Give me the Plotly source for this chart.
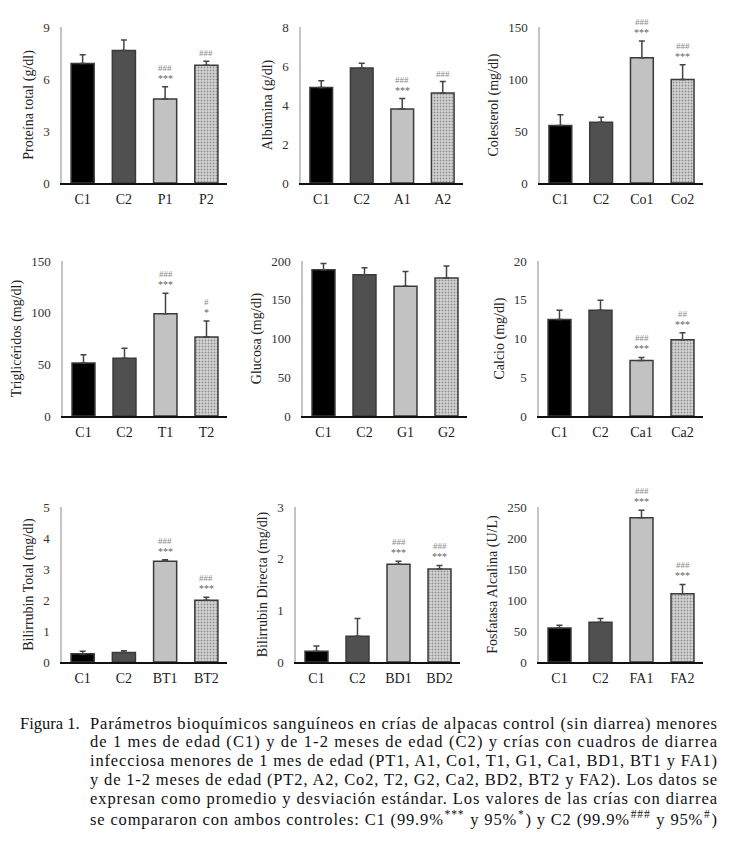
import plotly.graph_objects as go

# ---------------- data ----------------
titles = ["Proteína total (g/dl)", "Albúmina (g/dl)", "Colesterol (mg/dl)",
          "Triglicéridos (mg/dl)", "Glucosa (mg/dl)", "Calcio (mg/dl)",
          "Bilirrubin Total (mg/dl)", "Bilirrubin Directa (mg/dl)", "Fosfatasa Alcalina (U/L)"]
categories = [["C1", "C2", "P1", "P2"], ["C1", "C2", "A1", "A2"], ["C1", "C2", "Co1", "Co2"],
              ["C1", "C2", "T1", "T2"], ["C1", "C2", "G1", "G2"], ["C1", "C2", "Ca1", "Ca2"],
              ["C1", "C2", "BT1", "BT2"], ["C1", "C2", "BD1", "BD2"], ["C1", "C2", "FA1", "FA2"]]
means = [[6.9, 7.65, 4.85, 6.8], [4.9, 5.9, 3.8, 4.62], [55.4, 58.3, 120.5, 99.4],
         [51.3, 55.8, 99.0, 76.5], [188.8, 182.4, 167.3, 178.0], [12.45, 13.65, 7.15, 9.85],
         [0.27, 0.31, 3.25, 1.99], [0.21, 0.5, 1.89, 1.8], [54.8, 64.0, 232.8, 110.2]]
sds = [[0.5, 0.6, 0.7, 0.23], [0.34, 0.24, 0.53, 0.58], [10.3, 5.0, 16.0, 14.4],
       [8.0, 9.7, 19.7, 15.5], [8.0, 9.0, 19.0, 15.5], [1.2, 1.3, 0.4, 0.9],
       [0.08, 0.05, 0.05, 0.1], [0.1, 0.34, 0.06, 0.07], [4.3, 6.0, 11.8, 15.0]]
ymax = [9, 8, 150, 150, 200, 20, 5, 3, 250]
dticks = [3, 2, 50, 50, 50, 5, 1, 1, 50]
# significance marks: vs C1 (asterisks) and vs C2 (hashes) for each bar
sig_c1 = [["", "", "***", ""], ["", "", "***", ""], ["", "", "***", "***"],
          ["", "", "***", "*"], ["", "", "", ""], ["", "", "***", "***"],
          ["", "", "***", "***"], ["", "", "***", "***"], ["", "", "***", "***"]]
sig_c2 = [["", "", "###", "###"], ["", "", "###", "###"], ["", "", "###", "###"],
          ["", "", "###", "#"], ["", "", "", ""], ["", "", "###", "##"],
          ["", "", "###", "###"], ["", "", "###", "###"], ["", "", "###", "###"]]

caption_label = "Figura 1."
caption_lines = [
    "Parámetros bioquímicos sanguíneos en crías de alpacas control (sin diarrea) menores",
    "de 1 mes de edad (C1) y de 1-2 meses de edad (C2) y crías con cuadros de diarrea",
    "infecciosa menores de 1 mes de edad (PT1, A1, Co1, T1, G1, Ca1, BD1, BT1 y FA1)",
    "y de 1-2 meses de edad (PT2, A2, Co2, T2, G2, Ca2, BD2, BT2 y FA2). Los datos se",
    "expresan como promedio y desviación estándar. Los valores de las crías con diarrea",
    "se compararon con ambos controles: C1 (99.9%<sup>***</sup> y 95%<sup>*</sup>) y C2 (99.9%<sup>###</sup> y 95%<sup>#</sup>)",
]

# ---------------- layout geometry (page pixels) ----------------
OFF = 8                      # default body margin of the html page
W, H = 729 - OFF, 846 - OFF  # figure size so it exactly fills the window
col_x = [[(62, 227), (301, 463), (540, 703)],
         [(63, 227), (303, 467), (539, 703)],
         [(62, 227), (296, 460), (539, 703)]]
row_y = [(27, 183), (261, 416), (507, 662)]


def fx(px):
    return (px - OFF) / W


def fy(py):
    return (H - (py - OFF)) / H


bar_colors = ["#000000", "#505050", "#c2c2c2", "#d6d6d6"]
pattern_shapes = ["", "", "", "."]
FONT = "Liberation Serif, Times New Roman, serif"

fig = go.Figure()
layout = dict(width=W, height=H, margin=dict(l=0, r=0, t=0, b=0, autoexpand=False),
              paper_bgcolor="white", plot_bgcolor="white", showlegend=False,
              font=dict(family=FONT, color="#222"))
annotations = []

for i in range(9):
    r, c = divmod(i, 3)
    x0, x1 = col_x[r][c]
    ytop, ybot = row_y[r]
    n = i + 1
    xa = "x" if n == 1 else f"x{n}"
    ya = "y" if n == 1 else f"y{n}"
    fig.add_trace(go.Bar(
        x=categories[i], y=means[i], xaxis=xa, yaxis=ya, width=0.56,
        marker=dict(color=bar_colors, line=dict(color="#3a3a3a", width=1.5),
                    pattern=dict(shape=pattern_shapes, fgcolor="#a8a8a8", size=3, solidity=0.3)),
        error_y=dict(type="data", array=sds[i], arrayminus=[0] * 4, symmetric=False,
                     color="#444", thickness=1.5, width=3),
    ))
    layout[f"xaxis{'' if n == 1 else n}"] = dict(
        domain=[fx(x0), fx(x1)], anchor=ya, showline=True, linecolor="#111", linewidth=2,
        ticks="", showgrid=False, zeroline=False, automargin=False, fixedrange=True,
        tickfont=dict(family=FONT, size=14, color="#1a1a1a"), ticklabelstandoff=2)
    layout[f"yaxis{'' if n == 1 else n}"] = dict(
        domain=[fy(ybot), fy(ytop)], anchor=xa, range=[0, ymax[i]],
        dtick=dticks[i], tick0=0, showline=True, linecolor="#c4c4c4", linewidth=1.5,
        ticks="", showgrid=False, zeroline=False, automargin=False, fixedrange=True,
        tickfont=dict(family=FONT, size=13, color="#333"), ticklabelstandoff=8,
        title=dict(text=titles[i], font=dict(family=FONT, size=14, color="#222"), standoff=6))
    for j in range(4):
        top = means[i][j] + sds[i][j]
        marks = [m for m in (sig_c1[i][j], sig_c2[i][j]) if m]
        for k, m in enumerate(marks):
            annotations.append(dict(
                x=categories[i][j], y=top, xref=xa, yref=ya, text=m, showarrow=False,
                yanchor="bottom", yshift=1 + 11 * k,
                font=dict(family=FONT, size=10 if "*" in m else 9,
                          color="#666" if "*" in m else "#8a8a8a")))

# caption
cap_top = 723
spacing = 18.8
cap_size = 16.5
annotations.append(dict(x=fx(18), y=fy(cap_top), xref="paper", yref="paper",
                        text=caption_label, showarrow=False, xanchor="left", yanchor="middle",
                        align="left", font=dict(family=FONT, size=cap_size, color="#111")))
for k, line in enumerate(caption_lines):
    extra = 1.5 if "<sup>" in line else 0
    annotations.append(dict(x=fx(88), y=fy(cap_top + k * spacing + extra), xref="paper",
                            yref="paper", text=line, showarrow=False, xanchor="left",
                            yanchor="middle", align="left",
                            font=dict(family=FONT, size=cap_size, color="#111")))

layout["annotations"] = annotations
fig.update_layout(**layout)

# justify the caption lines (88px -> 715px) like the printed figure
justify_js = """
var gd = document.getElementById('{plot_id}');
var els = gd.querySelectorAll('text.annotation-text');
els.forEach(function(t){
  if ((t.textContent || '').length > 40) {
    t.setAttribute('textLength', '627');
    t.setAttribute('lengthAdjust', 'spacing');
  }
});
"""
fig.write_html("out.html", post_script=justify_js, config={"displayModeBar": False})
